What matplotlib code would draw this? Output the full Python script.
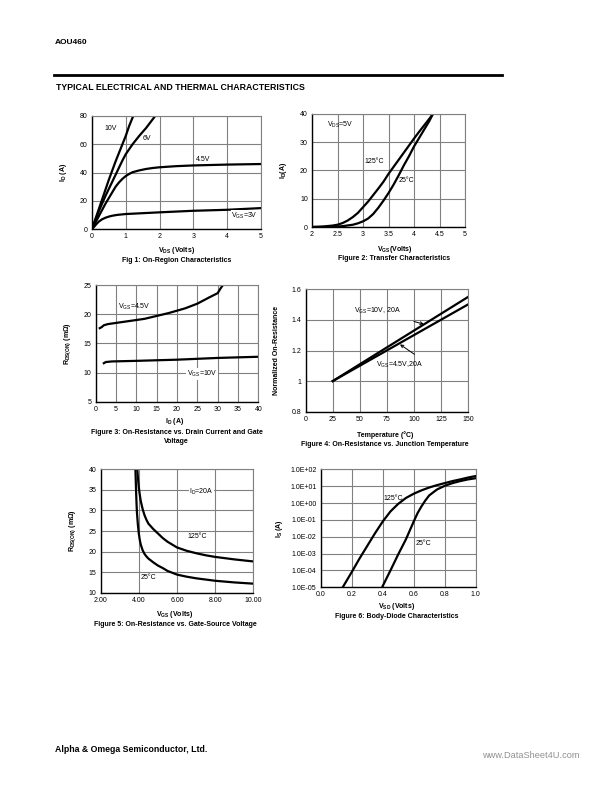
import numpy as np
import matplotlib
matplotlib.use('Agg')
import matplotlib.pyplot as plt

plt.rcParams['font.family'] = ['Liberation Sans', 'DejaVu Sans']
plt.rcParams['mathtext.fontset'] = 'custom'
plt.rcParams['mathtext.rm'] = 'Liberation Sans'
plt.rcParams['mathtext.bf'] = 'Liberation Sans:bold'
plt.rcParams['mathtext.default'] = 'rm'

W, H = 612, 792

# ---- data ----
# Fig 1: On-region characteristics
vds_10v = [0, 0.1, 0.2, 0.3, 0.4, 0.5, 0.6, 0.7, 0.8, 0.9, 1.0, 1.1, 1.22]
id_10v = [0, 7, 14, 21, 28, 35, 41.5, 48, 54, 60, 66, 73, 80]
vds_6v = [0, 0.1, 0.2, 0.3, 0.4, 0.5, 0.6, 0.7, 0.8, 0.9, 1.0, 1.2, 1.4, 1.6, 1.87]
id_6v = [0, 6.5, 12.5, 18, 23.5, 28.5, 33.5, 38.5, 43.5, 48.5, 53, 60, 66, 71.5, 80]
vds_45v = [0, 0.1, 0.2, 0.3, 0.4, 0.5, 0.6, 0.7, 0.8, 0.9, 1.0, 1.1, 1.2, 1.4, 1.6, 1.8, 2.0, 2.5, 3.0, 4.0, 5.0]
id_45v = [0, 4.5, 9, 13.5, 18, 22, 26, 30, 33, 35.5, 37.5, 39, 40.2, 41.5, 42.5, 43.2, 43.7, 44.5, 45, 45.6, 46]
vds_3v = [0, 0.05, 0.1, 0.15, 0.2, 0.3, 0.4, 0.5, 0.6, 0.75, 1.0, 1.5, 2.0, 3.0, 4.0, 5.0]
id_3v = [0, 1.2, 2.6, 4, 5.2, 6.9, 8, 8.8, 9.4, 10, 10.6, 11.2, 11.8, 12.9, 13.6, 14.8]

# Fig 2: transfer characteristics
vgs_125 = [2.0, 2.2, 2.4, 2.5, 2.6, 2.7, 2.8, 2.9, 3.0, 3.1, 3.2, 3.3, 3.4, 3.5, 3.6, 3.7, 3.8, 3.9, 4.0, 4.1, 4.2, 4.3, 4.37]
id_125 = [0, 0.15, 0.5, 0.8, 1.4, 2.3, 3.5, 5, 7, 9, 11.3, 13.6, 16, 18.8, 21.3, 23.8, 26.3, 28.8, 31.3, 33.7, 36, 38.3, 40]
vgs_25 = [2.0, 2.4, 2.6, 2.8, 2.9, 3.0, 3.1, 3.2, 3.3, 3.4, 3.5, 3.6, 3.7, 3.8, 3.9, 4.0, 4.1, 4.2, 4.3, 4.37]
id_25 = [0, 0.05, 0.3, 0.8, 1.3, 2, 3, 4.6, 6.8, 9.3, 12, 15, 18.3, 21.8, 25, 28.5, 31.5, 34.5, 37.5, 40]

# Fig 3: on-resistance vs drain current
id_r45 = [1, 1.5, 2, 3, 5, 8, 10, 12, 15, 18, 20, 22, 25, 28, 30, 30.7, 31.5]
rds_45 = [17.6, 17.8, 18.1, 18.3, 18.5, 18.8, 19.0, 19.2, 19.7, 20.2, 20.6, 21.0, 21.8, 22.9, 23.6, 24.4, 25.2]
id_r10 = [2, 2.5, 4, 10, 20, 30, 40]
rds_10 = [11.6, 11.8, 11.9, 12.0, 12.2, 12.5, 12.7]

# Fig 4: normalized on-resistance vs temperature
temp = [25, 150]
rn_10v = [1.0, 1.551]
rn_45v = [1.0, 1.502]

# Fig 5: on-resistance vs gate-source voltage
vgs_r125 = [3.92, 3.95, 4.0, 4.05, 4.1, 4.2, 4.3, 4.4, 4.5, 4.75, 5.0, 5.25, 5.5, 6.0, 6.5, 7.0, 7.5, 8.0, 9.0, 10.0]
rds_125 = [40, 38, 35.5, 33.8, 32.3, 30.3, 28.8, 27.7, 26.8, 25.5, 24.4, 23.3, 22.4, 21.0, 20.2, 19.6, 19.1, 18.7, 18.1, 17.6]
vgs_r25 = [3.82, 3.84, 3.86, 3.88, 3.9, 3.95, 4.0, 4.05, 4.1, 4.2, 4.3, 4.4, 4.5, 4.75, 5.0, 5.25, 5.5, 6.0, 6.5, 7.0, 8.0, 9.0, 10.0]
rds_25 = [40, 37, 34, 31.5, 29.5, 26.5, 24.3, 22.8, 21.7, 20.3, 19.4, 18.8, 18.3, 17.4, 16.6, 16.0, 15.3, 14.4, 13.9, 13.5, 12.9, 12.5, 12.2]

# Fig 6: body-diode characteristics (log10 of Is)
vsd_125 = [0.142, 0.2, 0.25, 0.3, 0.35, 0.4, 0.45, 0.5, 0.55, 0.6, 0.65, 0.7, 0.75, 0.8, 0.85, 0.9, 0.95, 1.0]
log_is_125 = [-5, -4.1, -3.3, -2.55, -1.8, -1.1, -0.5, -0.05, 0.3, 0.55, 0.75, 0.92, 1.06, 1.18, 1.3, 1.4, 1.51, 1.6]
vsd_25 = [0.396, 0.45, 0.5, 0.55, 0.6, 0.625, 0.65, 0.675, 0.7, 0.75, 0.8, 0.85, 0.9, 0.95, 1.0]
log_is_25 = [-5, -4, -3.05, -2.15, -1.1, -0.6, -0.2, 0.15, 0.45, 0.8, 1.02, 1.18, 1.3, 1.4, 1.47]

fig = plt.figure(figsize=(W / 100, H / 100), dpi=100)


def add_ax(x0, x1, ytop, ybot):
    ax = fig.add_axes([x0 / W, 1 - ybot / H, (x1 - x0) / W, (ybot - ytop) / H])
    ax.grid(True, color='#808080', lw=0.8)
    ax.set_axisbelow(True)
    for s in ['top', 'right']:
        ax.spines[s].set_color('#808080')
        ax.spines[s].set_linewidth(0.8)
    for s in ['left', 'bottom']:
        ax.spines[s].set_color('black')
        ax.spines[s].set_linewidth(1.0)
    ax.tick_params(length=0, labelsize=5, pad=3)
    return ax


def ftext(x, y, s, **kw):
    kw.setdefault('ha', 'center')
    kw.setdefault('va', 'center')
    fig.text(x / W, 1 - y / H, s, **kw)


box = dict(facecolor='white', edgecolor='none', pad=0.5)
lw = 1.6

# header / footer
ftext(55, 43, 'AOU460', ha='left', fontsize=6, fontweight='bold')
fig.add_artist(plt.Line2D([54 / W, 502 / W], [1 - 74.5 / H, 1 - 74.5 / H], color='black', lw=2))
ftext(56, 88, 'TYPICAL ELECTRICAL AND THERMAL CHARACTERISTICS', ha='left', fontsize=6.3, fontweight='bold')
ftext(55, 749, 'Alpha & Omega Semiconductor, Ltd.', ha='left', fontsize=6.3, fontweight='bold')
ftext(580, 756, 'www.DataSheet4U.com', ha='right', fontsize=6.7, color='#909090')

# Fig 1
ax = add_ax(92, 261, 116, 229)
ax.plot(vds_10v, id_10v, color='black', lw=lw)
ax.plot(vds_6v, id_6v, color='black', lw=lw)
ax.plot(vds_45v, id_45v, color='black', lw=lw)
ax.plot(vds_3v, id_3v, color='black', lw=lw)
ax.set_xlim(0, 5)
ax.set_ylim(0, 80)
ax.set_xticks(range(0, 6))
ax.set_yticks(range(0, 81, 20))
ax.text(0.55, 71, '10V', fontsize=5, ha='center', va='center')
ax.text(1.63, 64, '6V', fontsize=5, ha='center', va='center')
ax.text(3.3, 49.5, '4.5V', fontsize=5, ha='center', va='center')
ax.text(4.52, 9, r'V$_{\mathrm{GS}}$=3V', fontsize=5, ha='center', va='center', bbox=box)
ax.set_ylabel(r'I$_{\mathbf{D}}$ (A)', fontsize=5, fontweight='bold', labelpad=8)
ftext(176.7, 250.7, r'V$_{\mathbf{DS}}$ (Volts)', fontsize=5, fontweight='bold')
ftext(176.7, 260.7, 'Fig 1: On-Region Characteristics', fontsize=5, fontweight='bold')

# Fig 2
ax = add_ax(312, 465, 114, 227)
ax.plot(vgs_125, id_125, color='black', lw=lw)
ax.plot(vgs_25, id_25, color='black', lw=lw)
ax.set_xlim(2, 5)
ax.set_ylim(0, 40)
ax.set_xticks([2, 2.5, 3, 3.5, 4, 4.5, 5])
ax.set_xticklabels(['2', '2.5', '3', '3.5', '4', '4.5', '5'])
ax.set_yticks(range(0, 41, 10))
ax.text(2.3, 36.2, r'V$_{\mathrm{DS}}$=5V', fontsize=5, ha='left', va='center')
ax.text(3.22, 23.3, '125°C', fontsize=5, ha='center', va='center')
ax.text(3.86, 16.5, '25°C', fontsize=5, ha='center', va='center')
ax.set_ylabel(r'I$_{\mathbf{D}}$(A)', fontsize=5, fontweight='bold', labelpad=8)
ftext(394.3, 249.3, r'V$_{\mathbf{GS}}$(Volts)', fontsize=5, fontweight='bold')
ftext(394.3, 258, 'Figure 2: Transfer Characteristics', fontsize=5, fontweight='bold')

# Fig 3
ax = add_ax(95.7, 258.3, 285, 401.7)
ax.plot(id_r45, rds_45, color='black', lw=lw)
ax.plot(id_r10, rds_10, color='black', lw=lw)
ax.set_xlim(0, 40)
ax.set_ylim(5, 25)
ax.set_xticks(range(0, 41, 5))
ax.set_yticks(range(5, 26, 5))
ax.text(9.4, 21.3, r'V$_{\mathrm{GS}}$=4.5V', fontsize=5, ha='center', va='center')
ax.text(26.2, 9.7, r'V$_{\mathrm{GS}}$=10V', fontsize=5, ha='center', va='center', bbox=box)
ax.set_ylabel(r'R$_{\mathbf{DS(ON)}}$ (m$\mathbf{\Omega}$)', fontsize=5, fontweight='bold', labelpad=8)
ftext(175, 421.7, r'I$_{\mathbf{D}}$ (A)', fontsize=5, fontweight='bold')
ftext(176.7, 432.7, 'Figure 3: On-Resistance vs. Drain Current and Gate', fontsize=5, fontweight='bold')
ftext(176.7, 441.7, 'Voltage', fontsize=5, fontweight='bold')

# Fig 4
ax = add_ax(305.6, 468.3, 289.3, 411.7)
ax.plot(temp, rn_10v, color='black', lw=lw)
ax.plot(temp, rn_45v, color='black', lw=lw)
ax.set_xlim(0, 150)
ax.set_ylim(0.8, 1.6)
ax.set_xticks(range(0, 151, 25))
ax.set_yticks([0.8, 1.0, 1.2, 1.4, 1.6])
ax.set_yticklabels(['0.8', '1', '1.2', '1.4', '1.6'])
ax.annotate(r'V$_{\mathrm{GS}}$=10V, 20A', xy=(109, 1.372), xytext=(65.8, 1.456),
            fontsize=5, ha='center', va='center',
            arrowprops=dict(arrowstyle='->', color='black', lw=0.7, shrinkA=8, shrinkB=0))
ax.annotate(r'V$_{\mathrm{GS}}$=4.5V,20A', xy=(87, 1.24), xytext=(86.7, 1.103),
            fontsize=5, ha='center', va='center',
            arrowprops=dict(arrowstyle='->', color='black', lw=0.7, shrinkA=4, shrinkB=0,
                            relpos=(1.0, 1.0)))
ax.set_ylabel('Normalized On-Resistance', fontsize=5, fontweight='bold', labelpad=8)
ftext(385, 435, 'Temperature (°C)', fontsize=5, fontweight='bold')
ftext(385, 444.7, 'Figure 4: On-Resistance vs. Junction Temperature', fontsize=5, fontweight='bold')

# Fig 5
ax = add_ax(100.7, 253.3, 469.3, 592.7)
ax.plot(vgs_r125, rds_125, color='black', lw=lw)
ax.plot(vgs_r25, rds_25, color='black', lw=lw)
ax.set_xlim(2, 10)
ax.set_ylim(10, 40)
ax.set_xticks([2, 4, 6, 8, 10])
ax.set_xticklabels(['2.00', '4.00', '6.00', '8.00', '10.00'])
ax.set_yticks(range(10, 41, 5))
ax.text(7.29, 34.4, r'I$_{\mathrm{D}}$=20A', fontsize=5, ha='center', va='center', bbox=box)
ax.text(7.07, 23.6, '125°C', fontsize=5, ha='center', va='center')
ax.text(4.5, 13.7, '25°C', fontsize=5, ha='center', va='center')
ax.set_ylabel(r'R$_{\mathbf{DS(ON)}}$ (m$\mathbf{\Omega}$)', fontsize=5, fontweight='bold', labelpad=8)
ftext(175, 615, r'V$_{\mathbf{GS}}$ (Volts)', fontsize=5, fontweight='bold')
ftext(175, 624.3, 'Figure 5: On-Resistance vs. Gate-Source Voltage', fontsize=5, fontweight='bold')

# Fig 6
ax = add_ax(320.7, 475.7, 469.3, 587.3)
ax.semilogy(vsd_125, 10.0 ** np.array(log_is_125), color='black', lw=lw)
ax.semilogy(vsd_25, 10.0 ** np.array(log_is_25), color='black', lw=lw)
ax.set_xlim(0, 1)
ax.set_ylim(1e-5, 1e2)
ax.set_xticks([0, 0.2, 0.4, 0.6, 0.8, 1.0])
ax.set_xticklabels(['0.0', '0.2', '0.4', '0.6', '0.8', '1.0'])
yt = [1e-5, 1e-4, 1e-3, 1e-2, 1e-1, 1e0, 1e1, 1e2]
ax.set_yticks(yt)
ax.set_yticklabels(['1.0E-05', '1.0E-04', '1.0E-03', '1.0E-02', '1.0E-01', '1.0E+00', '1.0E+01', '1.0E+02'])
ax.minorticks_off()
ax.text(0.469, 10 ** 0.28, '125°C', fontsize=5, ha='center', va='center')
ax.text(0.66, 10 ** -2.43, '25°C', fontsize=5, ha='center', va='center')
ax.set_ylabel(r'I$_{\mathbf{S}}$ (A)', fontsize=5, fontweight='bold', labelpad=4)
ftext(396.7, 606.7, r'V$_{\mathbf{SD}}$ (Volts)', fontsize=5, fontweight='bold')
ftext(396.7, 616, 'Figure 6: Body-Diode Characteristics', fontsize=5, fontweight='bold')

fig.savefig('out.png', dpi=100)
